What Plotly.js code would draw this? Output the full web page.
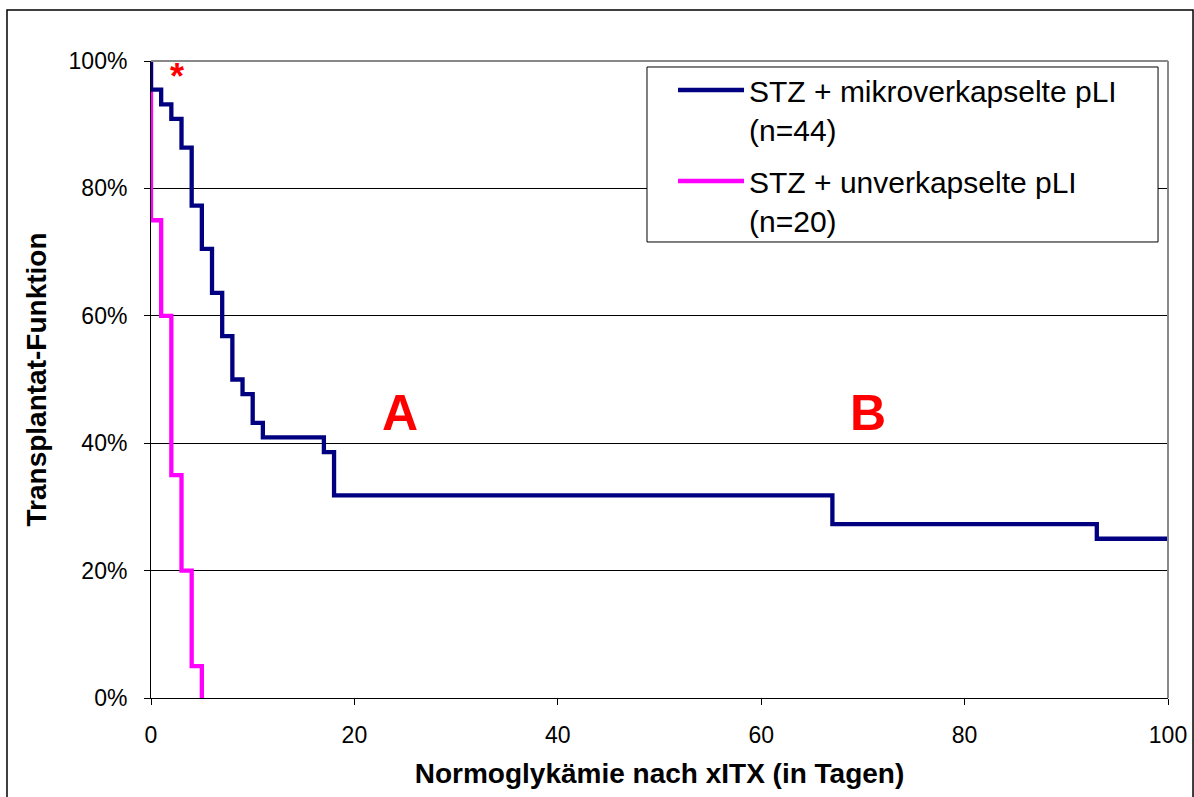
<!DOCTYPE html>
<html>
<head>
<meta charset="utf-8">
<script src="https://cdn.plot.ly/plotly-3.0.1.min.js"></script>
<style>
  html, body { margin: 0; padding: 0; background: #ffffff; }
  #chart { width: 1194px; height: 797px; }
</style>
</head>
<body>
<div id="chart"></div>
<script>
// ---- data ----
const seriesNames = ["STZ + mikroverkapselte pLI<br>(n=44)", "STZ + unverkapselte pLI<br>(n=20)"];
const mikroDays = [0, 0, 1, 2, 3, 4, 5, 6, 7, 8, 9, 10, 11, 17, 18, 67, 93, 100];
const mikroFunction = [100, 95.5, 93.2, 90.9, 86.4, 77.3, 70.5, 63.6, 56.8, 50.0, 47.7, 43.2, 40.9, 38.6, 31.8, 27.3, 25.0, 25.0];
const unverDays = [0, 0, 1, 2, 3, 4, 5];
const unverFunction = [100, 75, 60, 35, 20, 5, 0];
const xTickVals = [0, 20, 40, 60, 80, 100];
const yTickVals = [0, 20, 40, 60, 80, 100];
const yTickText = ["0%", "20%", "40%", "60%", "80%", "100%"];
const marks = [
  { text: "A", x: 24.5, y: 44.7 },
  { text: "B", x: 70.5, y: 44.7 }
];
const starMark = { text: "*", x: 2.6, y: 97.5 };

const FONT = "Liberation Sans, Arial, sans-serif";

const traces = [
  {
    x: unverDays, y: unverFunction, type: "scatter", mode: "lines",
    name: seriesNames[1], legendrank: 2, legendgroup: "g2",
    line: { color: "#FF00FF", width: 4.3, shape: "hv" }
  },
  {
    x: mikroDays, y: mikroFunction, type: "scatter", mode: "lines",
    name: seriesNames[0], legendrank: 1, legendgroup: "g1",
    line: { color: "#000080", width: 4.3, shape: "hv" }
  }
];

const annotations = marks.map(m => ({
  x: m.x, y: m.y, xref: "x", yref: "y", text: m.text, showarrow: false,
  font: { family: FONT, size: 50, color: "#FF0000", weight: "bold" },
  xanchor: "center", yanchor: "middle"
}));
annotations.push({
  x: starMark.x, y: starMark.y, xref: "x", yref: "y", text: starMark.text, showarrow: false,
  font: { family: FONT, size: 36, color: "#FF0000", weight: "bold" },
  xanchor: "center", yanchor: "middle"
});

const layout = {
  width: 1194, height: 797,
  margin: { l: 151, r: 26, t: 61, b: 99 },
  paper_bgcolor: "#ffffff", plot_bgcolor: "#ffffff",
  font: { family: FONT, color: "#000000" },
  showlegend: true,
  legend: {
    x: 0.5133, y: 0.9953, xanchor: "left", yanchor: "top",
    bgcolor: "rgba(0,0,0,0)", borderwidth: 0,
    font: { family: FONT, size: 30, color: "#000000" },
    valign: "top", itemwidth: 66, tracegroupgap: 10
  },
  xaxis: {
    range: [0, 100], tickvals: xTickVals, ticks: "outside", ticklen: 6, tickcolor: "#000",
    showline: true, linecolor: "#000", linewidth: 1, showgrid: false, zeroline: false,
    tickfont: { family: FONT, size: 23, color: "#000" }, ticklabelstandoff: 10,
    title: { text: "Normoglykämie nach xITX (in Tagen)", font: { family: FONT, size: 28, weight: "bold", color: "#000" }, standoff: 16 },
    fixedrange: true
  },
  yaxis: {
    range: [0, 100], tickvals: yTickVals, ticktext: yTickText, ticks: "outside", ticklen: 6, tickcolor: "#000",
    showline: true, linecolor: "#000", linewidth: 1, showgrid: true, gridcolor: "#000000", gridwidth: 1, zeroline: false,
    tickfont: { family: FONT, size: 23, color: "#000" }, ticklabelstandoff: 12,
    title: { text: "Transplantat-Funktion", font: { family: FONT, size: 28, weight: "bold", color: "#000" }, standoff: 13 },
    fixedrange: true
  },
  annotations: annotations,
  shapes: [
    { type: "line", xref: "paper", yref: "paper", x0: 0, x1: 1, y0: 1, y1: 1, line: { color: "#888888", width: 2 } },
    { type: "line", xref: "paper", yref: "paper", x0: 1, x1: 1, y0: 0, y1: 1, line: { color: "#888888", width: 2 } },
    { type: "rect", xref: "paper", yref: "paper", x0: 0.4877, x1: 0.9902, y0: 0.7159, y1: 0.9906,
      fillcolor: "#ffffff", line: { color: "#000000", width: 1 }, layer: "above" },
    { type: "rect", xref: "paper", yref: "paper", x0: -0.1416, x1: 1.0246, y0: -0.17, y1: 1.0801, line: { color: "#000000", width: 1.5 }, layer: "below" }
  ]
};

Plotly.newPlot("chart", traces, layout, { displayModeBar: false, staticPlot: true });
</script>
</body>
</html>
